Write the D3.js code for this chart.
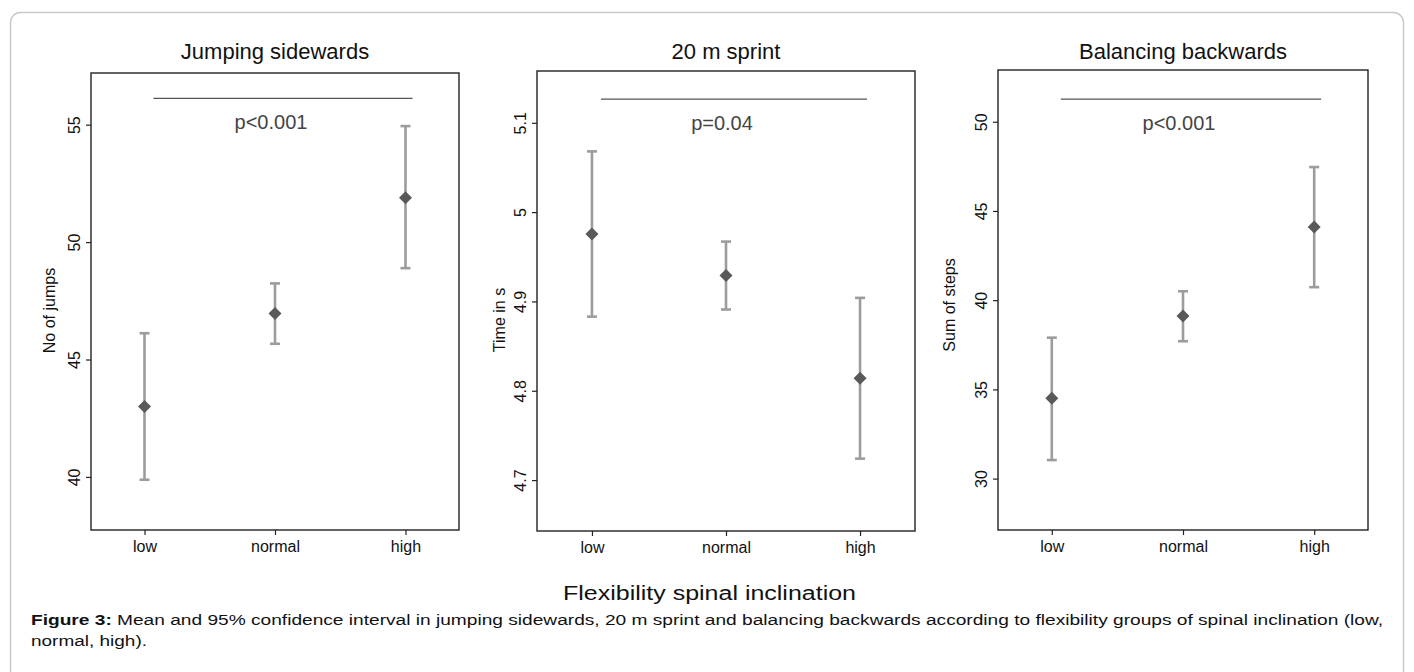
<!DOCTYPE html>
<html><head><meta charset="utf-8">
<script src="https://cdn.jsdelivr.net/npm/d3@7"></script>
<style>
html,body{margin:0;padding:0;background:#fff;}
svg{display:block;font-family:"Liberation Sans",Arial,sans-serif;}
</style></head>
<body>
<svg id="chart" width="1414" height="672"></svg>
<script>
// ---- data ----
const categories = ["low", "normal", "high"];
const panelTitles = ["Jumping sidewards", "20 m sprint", "Balancing backwards"];
const yAxisTitles = ["No of jumps", "Time in s", "Sum of steps"];
const pTexts = ["p<0.001", "p=0.04", "p<0.001"];

const jumpMean  = [43.0, 46.96, 51.89];
const jumpLower = [39.88, 45.67, 48.89];
const jumpUpper = [46.12, 48.24, 54.94];
const jumpTicks = [40, 45, 50, 55];
const jumpDomain = [37.74, 57.2];
const jumpBracket = 56.12;

const sprintMean  = [4.9755, 4.929, 4.814];
const sprintLower = [4.883, 4.891, 4.724];
const sprintUpper = [5.068, 4.967, 4.904];
const sprintTicks = [4.7, 4.8, 4.9, 5.0, 5.1];
const sprintTickLabels = ["4.7", "4.8", "4.9", "5", "5.1"];
const sprintDomain = [4.643, 5.158];
const sprintBracket = 5.1265;

const balMean  = [34.5, 39.12, 44.1];
const balLower = [31.04, 37.7, 40.73];
const balUpper = [37.9, 40.5, 47.46];
const balTicks = [30, 35, 40, 45, 50];
const balDomain = [27.12, 52.9];
const balBracket = 51.27;

const xAxisTitle = "Flexibility spinal inclination";
const captionBold = "Figure 3:";
const captionLine1 = " Mean and 95% confidence interval in jumping sidewards, 20 m sprint and balancing backwards according to flexibility groups of spinal inclination (low,";
const captionLine2 = "normal, high).";

// ---- layout ----
const panels = [
  {mean: jumpMean, lo: jumpLower, hi: jumpUpper, ticks: jumpTicks, tickLabels: jumpTicks.map(String), domain: jumpDomain, bracket: jumpBracket,
   x0: 91, x1: 459, y0: 73, y1: 530, ytOff: 36, ytDy: 9},
  {mean: sprintMean, lo: sprintLower, hi: sprintUpper, ticks: sprintTicks, tickLabels: sprintTickLabels, domain: sprintDomain, bracket: sprintBracket,
   x0: 537, x1: 915, y0: 71, y1: 531, ytOff: 32, ytDy: 19},
  {mean: balMean, lo: balLower, hi: balUpper, ticks: balTicks, tickLabels: balTicks.map(String), domain: balDomain, bracket: balBracket,
   x0: 998, x1: 1368, y0: 70, y1: 530, ytOff: 43, ytDy: 5}
];

const svg = d3.select("#chart");

// outer rounded border
svg.append("rect")
  .attr("x", 10.5).attr("y", 12.5).attr("width", 1393).attr("height", 700)
  .attr("rx", 10).attr("fill", "none").attr("stroke", "#c9c9c9").attr("stroke-width", 1.5);

panels.forEach((p, i) => {
  const g = svg.append("g");
  const x = d3.scalePoint().domain(categories).range([p.x0, p.x1]).padding(0.41);
  const y = d3.scaleLinear().domain(p.domain).range([p.y1, p.y0]);

  // title
  g.append("text")
    .attr("x", x("normal")).attr("y", 59)
    .attr("text-anchor", "middle").attr("font-size", 22).attr("fill", "#111")
    .text(panelTitles[i]);

  // y axis
  const yAxis = d3.axisLeft(y).tickValues(p.ticks).tickSize(5).tickFormat((d, k) => p.tickLabels[k]);
  const ya = g.append("g").attr("transform", `translate(${p.x0},0)`).call(yAxis);
  ya.select(".domain").remove();
  ya.selectAll(".tick line").attr("stroke", "#222").attr("stroke-width", 1.2);
  ya.selectAll(".tick text")
    .attr("font-size", 16).attr("fill", "#111").attr("font-family", "Liberation Sans, Arial, sans-serif")
    .attr("x", null).attr("dy", null).attr("text-anchor", "middle")
    .attr("transform", "translate(-11,0) rotate(-90)")
    .attr("y", 0);

  // x axis
  const xAxis = d3.axisBottom(x).tickSize(5);
  const xa = g.append("g").attr("transform", `translate(0,${p.y1})`).call(xAxis);
  xa.select(".domain").remove();
  xa.selectAll(".tick line").attr("stroke", "#222").attr("stroke-width", 1.2);
  xa.selectAll(".tick text").attr("font-size", 16).attr("fill", "#111")
    .attr("font-family", "Liberation Sans, Arial, sans-serif")
    .attr("y", 22).attr("dy", "0");

  // frame
  g.append("rect")
    .attr("x", p.x0).attr("y", p.y0).attr("width", p.x1 - p.x0).attr("height", p.y1 - p.y0)
    .attr("fill", "none").attr("stroke", "#222").attr("stroke-width", 1.4);

  // y axis title
  g.append("text")
    .attr("transform", `translate(${p.x0 - p.ytOff},${(p.y0 + p.y1) / 2 + p.ytDy}) rotate(-90)`)
    .attr("text-anchor", "middle").attr("font-size", 16).attr("fill", "#111")
    .text(yAxisTitles[i]);

  // significance bracket
  g.append("line")
    .attr("x1", x("low") + 9).attr("x2", x("high") + 7)
    .attr("y1", y(p.bracket)).attr("y2", y(p.bracket))
    .attr("stroke", "#555").attr("stroke-width", 1.1);
  g.append("text")
    .attr("x", x("normal") - 4).attr("y", y(p.bracket) + 31)
    .attr("text-anchor", "middle").attr("font-size", 20).attr("fill", "#444")
    .text(pTexts[i]);

  // error bars
  const rows = categories.map((c, k) => ({c, m: p.mean[k], lo: p.lo[k], hi: p.hi[k]}));
  const eb = g.selectAll(".eb").data(rows).enter().append("g");
  eb.append("line").attr("x1", d => x(d.c)).attr("x2", d => x(d.c))
    .attr("y1", d => y(d.lo)).attr("y2", d => y(d.hi))
    .attr("stroke", "#9c9c9c").attr("stroke-width", 2.6);
  eb.append("line").attr("x1", d => x(d.c) - 5).attr("x2", d => x(d.c) + 5)
    .attr("y1", d => y(d.lo)).attr("y2", d => y(d.lo))
    .attr("stroke", "#9c9c9c").attr("stroke-width", 2.6);
  eb.append("line").attr("x1", d => x(d.c) - 5).attr("x2", d => x(d.c) + 5)
    .attr("y1", d => y(d.hi)).attr("y2", d => y(d.hi))
    .attr("stroke", "#9c9c9c").attr("stroke-width", 2.6);
  eb.append("path")
    .attr("d", d => {
      const cx = x(d.c), cy = y(d.m);
      return `M${cx - 6.5},${cy} L${cx},${cy - 6.5} L${cx + 6.5},${cy} L${cx},${cy + 6.5} Z`;
    })
    .attr("fill", "#595959");
});

// x axis title
svg.append("text")
  .attr("x", 563).attr("y", 600)
  .attr("font-size", 20).attr("fill", "#111")
  .attr("textLength", 293).attr("lengthAdjust", "spacingAndGlyphs")
  .text(xAxisTitle);

// caption
const cap = svg.append("text").attr("x", 31).attr("y", 625).attr("font-size", 14).attr("fill", "#111")
  .attr("textLength", 1352).attr("lengthAdjust", "spacingAndGlyphs");
cap.append("tspan").attr("font-weight", "bold").text(captionBold);
cap.append("tspan").text(captionLine1);
svg.append("text").attr("x", 31).attr("y", 646).attr("font-size", 14).attr("fill", "#111")
  .attr("textLength", 116).attr("lengthAdjust", "spacingAndGlyphs")
  .text(captionLine2);
</script>
</body></html>
